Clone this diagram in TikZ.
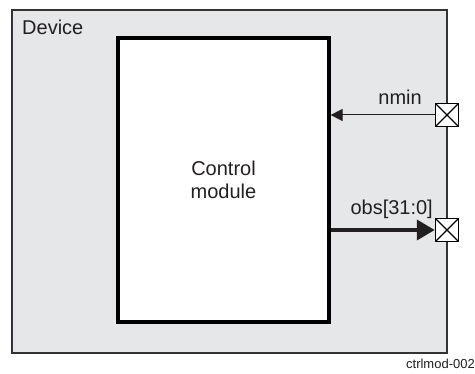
\documentclass[tikz,border=0pt]{standalone}
\usepackage{fontspec}
\setmainfont{Liberation Sans}
\usetikzlibrary{positioning, arrows.meta, calc}
\definecolor{devfill}{HTML}{E6E7E8}
\definecolor{devline}{HTML}{333333}
\definecolor{txtdark}{HTML}{231F20}

\begin{document}
\begin{tikzpicture}[
    x=1pt, y=-1pt,
    every node/.style={font=\fontsize{20}{23}\selectfont, text=txtdark},
    device/.style={
        rectangle, draw=devline, fill=devfill, line width=1.8pt,
        minimum width=435pt, minimum height=343pt, inner sep=0pt
    },
    module/.style={
        rectangle, draw=black, fill=white, line width=3.2pt,
        minimum width=211pt, minimum height=284pt, align=center
    },
    port/.style={
        rectangle, draw=black, fill=white, line width=1.5pt,
        minimum size=23pt, inner sep=0pt,
        path picture={
            \draw[line width=1.2pt] (path picture bounding box.north west) -- (path picture bounding box.south east);
            \draw[line width=1.2pt] (path picture bounding box.south west) -- (path picture bounding box.north east);
        }
    },
    sig/.style={-{Triangle[length=12pt, width=12pt]}, line width=1pt, color=txtdark},
    bus/.style={-{Triangle[length=18pt, width=20pt]}, line width=4pt, color=txtdark},
    lbl/.style={inner sep=0pt},
    tag/.style={font=\fontsize{13}{15}\selectfont, inner sep=0pt},
]
\useasboundingbox (0,0) rectangle (475,374);

% Device frame
\node[device] (dev) at (229.5,181.5) {};
\node[lbl, anchor=base west] (devname) at (22,35) {Device};

% Control module
\node[module] (ctrl) at (223.5,180) {Control\\module};

% Ports on the right edge
\node[port] (pnmin) at (447,115) {};
\node[port] (pobs) at (447,230) {};

% Signals
\draw[sig] (pnmin.west) -- (ctrl.east |- pnmin.west);
\draw[bus] (ctrl.east |- pobs.west) -- (pobs.west);

% Signal labels
\node[lbl, anchor=base east] (lnmin) at (422,105) {nmin};
\node[lbl, anchor=base east] (lobs) at (433,215) {obs[31:0]};

% Figure tag
\node[tag, anchor=base east] (figtag) at (475,369) {ctrlmod-002};

\end{tikzpicture}
\end{document}
